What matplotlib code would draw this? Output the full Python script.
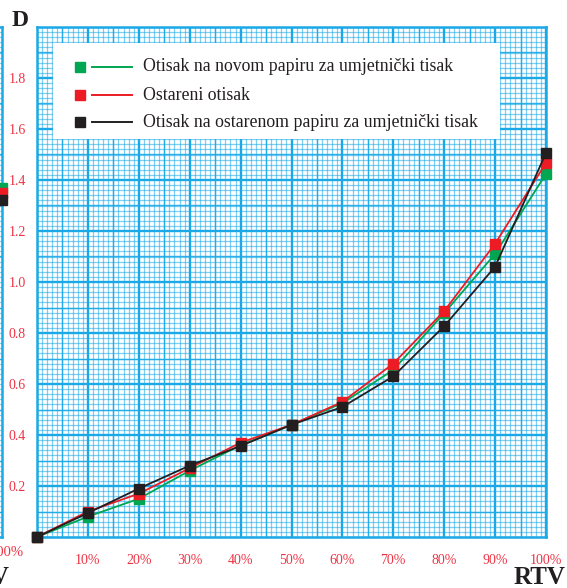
import numpy as np
import matplotlib
matplotlib.use('Agg')
import matplotlib.pyplot as plt
from matplotlib.patches import Rectangle
from matplotlib.ticker import MultipleLocator

plt.rcParams['font.family'] = ['Liberation Serif', 'DejaVu Serif']

# RTV (%) and optical density D for the three prints
rtv = [0, 10, 20, 30, 40, 50, 60, 70, 80, 90, 100]
d_novi = [0.0, 0.08, 0.15, 0.26, 0.36, 0.44, 0.525, 0.655, 0.878, 1.11, 1.424]
d_ostareni = [0.0, 0.10, 0.17, 0.27, 0.37, 0.44, 0.53, 0.68, 0.886, 1.15, 1.467]
d_ostareni_papir = [0.0, 0.094, 0.19, 0.28, 0.357, 0.44, 0.51, 0.63, 0.827, 1.06, 1.506]

# last points of the neighbouring chart (only its edge is in frame)
prev_rtv = [100, 100, 100]
prev_d = [1.37, 1.35, 1.32]

labels = ['Otisak na novom papiru za umjetnički tisak',
          'Ostareni otisak',
          'Otisak na ostarenom papiru za umjetnički tisak']
colors = ['#00a651', '#ed1c24', '#231f20']
grid_c = '#1aa9e6'
tick_c = '#ee3344'

W, H = 567, 588
fig = plt.figure(figsize=(W / 100, H / 100), dpi=100)


def graph_paper(ax):
    ax.set_xlim(0, 100)
    ax.set_ylim(0, 2.0)
    ax.xaxis.set_major_locator(MultipleLocator(10))
    ax.yaxis.set_major_locator(MultipleLocator(0.2))
    ax.xaxis.set_minor_locator(MultipleLocator(1))
    ax.yaxis.set_minor_locator(MultipleLocator(0.02))
    ax.grid(which='minor', color=grid_c, lw=0.9, alpha=0.55)
    ax.grid(which='major', color=grid_c, lw=1.7)
    for x in np.arange(5, 100, 10):
        ax.axvline(x, color=grid_c, lw=1.0, alpha=0.9, zorder=0.6)
    for y in np.arange(0.1, 2.0, 0.2):
        ax.axhline(y, color=grid_c, lw=1.0, alpha=0.9, zorder=0.6)
    ax.set_axisbelow(True)
    for s in ax.spines.values():
        s.set_color(grid_c)
        s.set_linewidth(1.8)
    ax.tick_params(which='both', length=0, colors=tick_c, labelsize=10)
    ax.tick_params(axis='x', pad=12)
    ax.tick_params(axis='y', pad=8)


# main chart
x0, x1, y0, y1 = 37, 546, 537, 27
ax = fig.add_axes([x0 / W, 1 - y0 / H, (x1 - x0) / W, (y0 - y1) / H])
graph_paper(ax)
ax.set_xticks(range(10, 101, 10))
ax.set_xticklabels([f'{v}%' for v in range(10, 101, 10)])
ax.set_yticks(np.arange(0.2, 1.81, 0.2))
ax.set_yticklabels([f'{v:.1f}' for v in np.arange(0.2, 1.81, 0.2)])

for d, c in zip([d_novi, d_ostareni, d_ostareni_papir], colors):
    ax.plot(rtv, d, color=c, lw=1.3, marker='s', ms=6.5, mec=c, mfc=c,
            clip_on=False, zorder=3)

# legend box with marker, line and label on each row
ax.add_patch(Rectangle((0.031, 0.780), 0.879, 0.189, transform=ax.transAxes,
                       facecolor='white', edgecolor='none', zorder=4))
for yy, c, lab in zip([0.9225, 0.8666, 0.8137], colors, labels):
    ax.plot([0.0845], [yy], marker='s', ms=7, color=c, transform=ax.transAxes,
            zorder=5)
    ax.plot([0.108, 0.187], [yy, yy], color=c, lw=1.4, transform=ax.transAxes,
            zorder=5)
    ax.text(0.208, yy, lab, transform=ax.transAxes, fontsize=12.8, va='center',
            ha='left', color='#231f20', zorder=5)

fig.text(12 / W, 1 - 21 / H, 'D', fontsize=17, fontweight='bold', va='center',
         ha='left', color='#231f20')
fig.text(565 / W, 1 - 577 / H, 'RTV', fontsize=18, fontweight='bold',
         va='center', ha='right', color='#231f20')

# edge of the neighbouring chart on the left
px1 = 2
ax2 = fig.add_axes([(px1 - (x1 - x0)) / W, 1 - y0 / H, (x1 - x0) / W, (y0 - y1) / H])
graph_paper(ax2)
ax2.set_xticks([])
ax2.set_yticks([])
for yv, c in zip(prev_d, colors):
    ax2.plot([prev_rtv[0]], [yv], marker='s', ms=6.5, color=c, clip_on=False,
             zorder=3)
fig.text(24 / W, 1 - 553 / H, '100%', fontsize=10.5, color=tick_c,
         va='center', ha='right')
fig.text(9 / W, 1 - 577 / H, 'RTV', fontsize=18, fontweight='bold',
         va='center', ha='right', color='#231f20')

fig.savefig('out.png', dpi=100, facecolor='white')
